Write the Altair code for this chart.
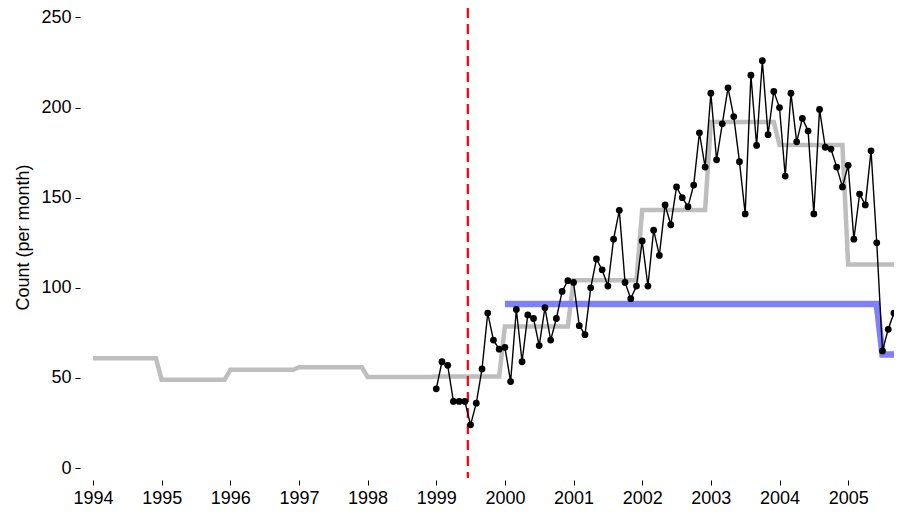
import altair as alt
import pandas as pd

# ---- data ----
years = list(range(1994, 2006))
yearly_mean = [61, 49, 54.5, 56, 50.5, 50.75, 78.5, 104.25, 143.25, 192, 179.2, 113]

monthly_start_year = 1999
monthly_counts = [
    44, 59, 57, 37, 37, 37, 24, 36, 55, 86, 71, 66,        # 1999
    67, 48, 88, 59, 85, 83, 68, 89, 71, 83, 98, 104,       # 2000
    103, 79, 74, 100, 116, 110, 101, 127, 143, 103, 94, 101,  # 2001
    126, 101, 132, 118, 146, 135, 156, 150, 145, 157, 186, 167,  # 2002
    208, 171, 191, 211, 195, 170, 141, 218, 179, 226, 185, 209,  # 2003
    200, 162, 208, 181, 194, 187, 141, 199, 178, 177, 167, 156,  # 2004
    168, 127, 152, 146, 176, 125, 65, 77, 86, 76,              # 2005
]

fit_levels = [91, 63]
fit_start = 2000.0
fit_break = 2005.5
fit_end = 2006.0

intervention = 1999.46

y_ticks = [0, 50, 100, 150, 200, 250]

# ---- tables ----
gray_rows = []
for y, v in zip(years, yearly_mean):
    gray_rows.append({"t": y, "v": v})
    gray_rows.append({"t": y + 11 / 12, "v": v})
gray_df = pd.DataFrame(gray_rows)

monthly_df = pd.DataFrame({
    "t": [monthly_start_year + i / 12 for i in range(len(monthly_counts))],
    "v": monthly_counts,
})

fit_df = pd.DataFrame({
    "t": [fit_start, fit_break - 1 / 12, fit_break, fit_end - 1 / 12],
    "v": [fit_levels[0], fit_levels[0], fit_levels[1], fit_levels[1]],
})

rule_df = pd.DataFrame({"t": [intervention]})

FONT = "Liberation Sans"

PLOT_W = 801
PX_PER_YEAR = 68.65
xs = alt.Scale(domain=[1994, 1994 + PLOT_W / PX_PER_YEAR], nice=False, zero=False)
ys = alt.Scale(domain=[-5.5, 255.26], nice=False, zero=False)

x_axis = alt.Axis(values=years, format="d", title=None, domain=False, grid=False,
                  offset=2, tickSize=5, tickColor="black", tickWidth=1,
                  labelPadding=4, labelFontSize=18, labelFont=FONT, labelColor="black",
                  labelOverlap=False, labelFlush=False)
y_axis = alt.Axis(values=y_ticks, format="d", title="Count (per month)", domain=False,
                  grid=False, offset=13, tickSize=5, tickColor="black", tickWidth=1,
                  labelPadding=4, labelFontSize=18, labelFont=FONT, labelColor="black",
                  labelFlush=False,
                  titleFont=FONT, titleFontSize=18, titleFontWeight="normal",
                  titleColor="black", titlePadding=8, titleY=229)

gray = alt.Chart(gray_df).mark_line(color="#bebebe", strokeWidth=4.5, clip=True).encode(
    x=alt.X("t:Q", scale=xs, axis=x_axis),
    y=alt.Y("v:Q", scale=ys, axis=y_axis),
)

fit = alt.Chart(fit_df).mark_line(color="#8080fa", strokeWidth=6.5, clip=True).encode(
    x=alt.X("t:Q", scale=xs),
    y=alt.Y("v:Q", scale=ys),
)

rule = alt.Chart(rule_df).mark_rule(color="#ff0000", strokeWidth=2.2,
                                    strokeDash=[10, 6]).encode(
    x=alt.X("t:Q", scale=xs),
)

line = alt.Chart(monthly_df).mark_line(color="black", strokeWidth=1.4, clip=True).encode(
    x=alt.X("t:Q", scale=xs),
    y=alt.Y("v:Q", scale=ys),
)

pts = alt.Chart(monthly_df).mark_circle(color="black", size=46, opacity=1, clip=True).encode(
    x=alt.X("t:Q", scale=xs),
    y=alt.Y("v:Q", scale=ys),
)

chart = alt.layer(gray, fit, rule, line, pts).properties(
    width=PLOT_W, height=470,
    autosize=alt.AutoSizeParams(type="none"),
    padding={"left": 85, "top": 0, "right": 0, "bottom": 34},
    background="white",
).configure_view(stroke=None)

chart.save("out.html", embed_options={"renderer": "svg", "actions": False})
